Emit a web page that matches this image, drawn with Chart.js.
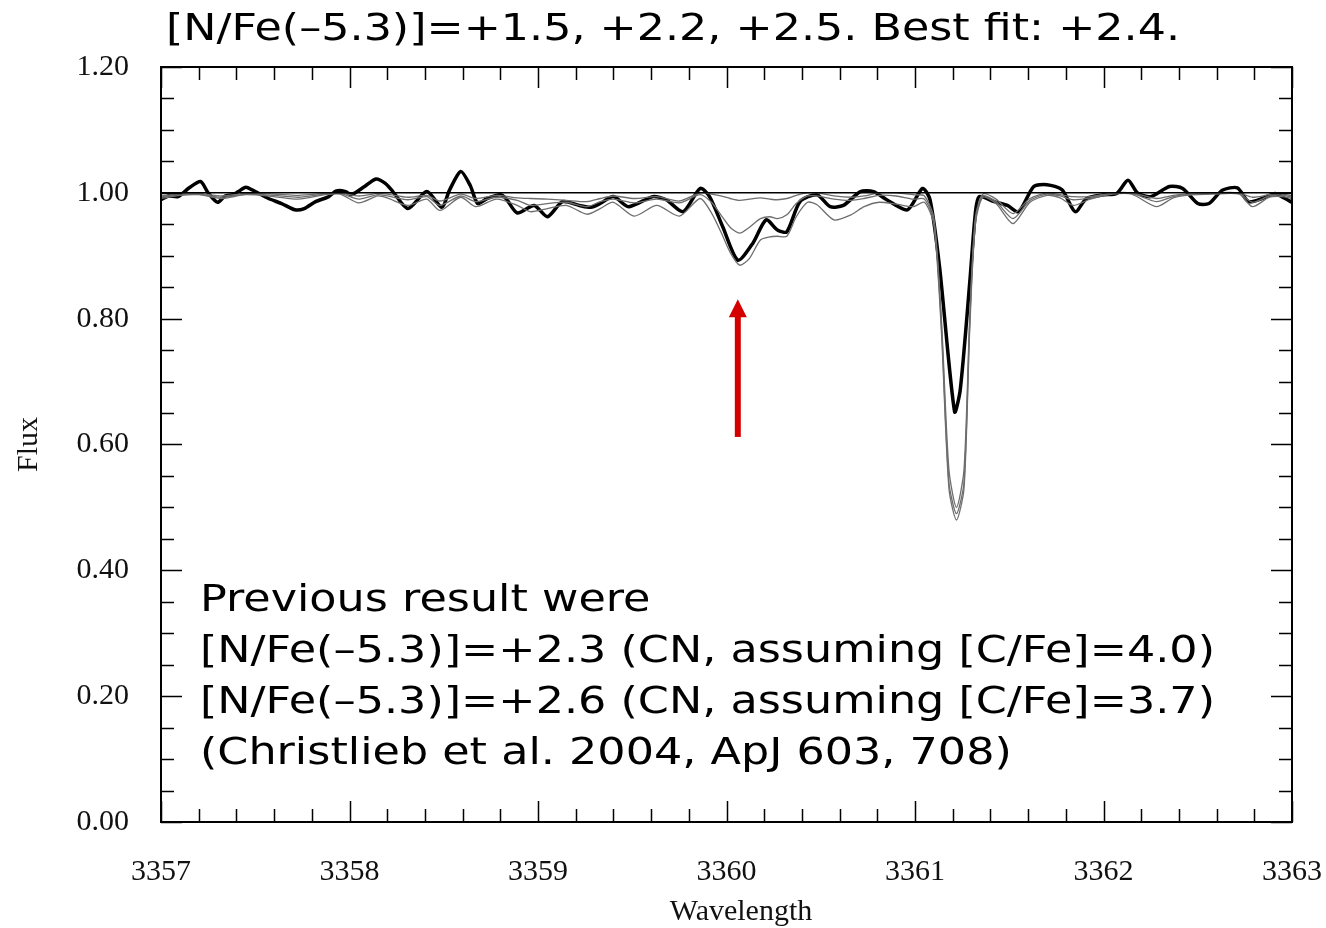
<!DOCTYPE html>
<html>
<head>
<meta charset="utf-8">
<script src="https://cdn.jsdelivr.net/npm/chart.js@4"></script>
<style>
  html, body { margin: 0; padding: 0; background: #fff; }
  #wrap { width: 1326px; height: 928px; }
</style>
</head>
<body>
<div id="wrap"><canvas id="myChart"></canvas></div>
<script>
// observed spectrum (thick line)
const obsWave = [3357.00, 3357.04, 3357.09, 3357.15, 3357.21, 3357.25, 3357.30, 3357.34, 3357.38, 3357.41,
  3357.45, 3357.50, 3357.57, 3357.64, 3357.71, 3357.76, 3357.82, 3357.89, 3357.93, 3357.98,
  3358.01, 3358.08, 3358.14, 3358.19, 3358.23, 3358.31, 3358.41, 3358.49, 3358.53, 3358.59,
  3358.64, 3358.68, 3358.73, 3358.80, 3358.83, 3358.89, 3358.98, 3359.05, 3359.13, 3359.22,
  3359.28, 3359.33, 3359.40, 3359.48, 3359.61, 3359.68, 3359.77, 3359.86, 3359.91, 3359.98,
  3360.06, 3360.14, 3360.21, 3360.27, 3360.32, 3360.39, 3360.48, 3360.55, 3360.62, 3360.71,
  3360.78, 3360.85, 3360.96, 3361.04, 3361.08, 3361.13, 3361.21, 3361.24, 3361.29, 3361.32,
  3361.34, 3361.42, 3361.49, 3361.55, 3361.63, 3361.70, 3361.78, 3361.85, 3361.91, 3362.00,
  3362.07, 3362.13, 3362.18, 3362.25, 3362.35, 3362.42, 3362.50, 3362.56, 3362.63, 3362.71,
  3362.77, 3362.85, 3362.91, 3362.95, 3363.00];
const obsFlux = [0.989, 0.995, 0.994, 1.008, 1.018, 1.000, 0.985, 0.995, 0.997, 1.002,
  1.009, 1.002, 0.991, 0.983, 0.973, 0.975, 0.986, 0.994, 1.003, 1.002,
  0.997, 1.010, 1.022, 1.015, 1.002, 0.975, 1.002, 0.977, 1.004, 1.034,
  1.012, 0.983, 0.991, 0.997, 0.991, 0.968, 0.980, 0.962, 0.986, 0.980,
  0.977, 0.983, 0.994, 0.978, 0.994, 0.989, 0.970, 1.007, 0.994, 0.946,
  0.893, 0.920, 0.957, 0.941, 0.938, 0.986, 0.997, 0.978, 0.980, 1.002,
  1.002, 0.989, 0.973, 1.007, 0.989, 0.883, 0.652, 0.687, 0.856, 0.967,
  0.994, 0.986, 0.980, 0.970, 1.010, 1.013, 1.005, 0.970, 0.991, 0.997,
  0.999, 1.020, 1.000, 0.994, 1.010, 1.007, 0.983, 0.983, 1.004, 1.008,
  0.986, 0.992, 0.999, 0.993, 0.985];

// synthetic spectra, [N/Fe] = +1.5, +2.2, +2.5
const synWave = [3357.00, 3357.10, 3357.20, 3357.32, 3357.45, 3357.60, 3357.73, 3357.87, 3357.95, 3358.05,
  3358.15, 3358.20, 3358.31, 3358.41, 3358.48, 3358.59, 3358.67, 3358.78, 3358.89, 3358.96,
  3359.05, 3359.15, 3359.26, 3359.33, 3359.40, 3359.51, 3359.63, 3359.75, 3359.86, 3359.92,
  3359.97, 3360.02, 3360.07, 3360.12, 3360.18, 3360.23, 3360.27, 3360.32, 3360.37, 3360.43,
  3360.48, 3360.57, 3360.66, 3360.73, 3360.81, 3360.90, 3360.99, 3361.05, 3361.10, 3361.14,
  3361.18, 3361.22, 3361.26, 3361.29, 3361.32, 3361.36, 3361.43, 3361.52, 3361.61, 3361.70,
  3361.77, 3361.84, 3361.93, 3362.05, 3362.15, 3362.28, 3362.37, 3362.44, 3362.58, 3362.72,
  3362.79, 3362.88, 3362.95, 3363.00];
const syn15 = [0.995, 0.998, 0.999, 0.995, 0.999, 0.998, 0.996, 0.999, 1.000, 0.995,
  0.999, 0.998, 0.993, 0.996, 0.987, 0.998, 0.991, 0.996, 0.992, 0.991,
  0.990, 0.988, 0.986, 0.991, 0.995, 0.991, 0.994, 0.987, 1.000, 0.998,
  0.995, 0.991, 0.988, 0.990, 0.992, 0.990, 0.989, 0.991, 0.996, 1.000,
  1.000, 0.995, 0.993, 0.995, 1.000, 1.000, 0.997, 0.995, 0.960, 0.800,
  0.560, 0.500, 0.560, 0.800, 0.960, 0.998, 0.990, 0.967, 0.991, 1.000,
  0.997, 0.994, 0.994, 1.000, 1.000, 0.991, 0.996, 0.998, 1.000, 1.000,
  0.993, 0.997, 0.998, 0.995];
const syn22 = [0.993, 0.997, 0.998, 0.993, 0.998, 0.996, 0.993, 0.998, 0.999, 0.990,
  0.997, 0.995, 0.989, 0.994, 0.980, 0.995, 0.986, 0.993, 0.988, 0.980,
  0.983, 0.985, 0.978, 0.986, 0.990, 0.984, 0.990, 0.984, 0.997, 0.985,
  0.965, 0.945, 0.936, 0.945, 0.959, 0.962, 0.959, 0.965, 0.983, 0.995,
  0.995, 0.990, 0.988, 0.991, 0.996, 0.995, 0.990, 0.990, 0.955, 0.790,
  0.540, 0.490, 0.540, 0.790, 0.955, 0.995, 0.986, 0.959, 0.988, 0.998,
  0.995, 0.989, 0.992, 0.999, 0.999, 0.986, 0.994, 0.997, 0.999, 0.999,
  0.985, 0.995, 0.996, 0.993];
const syn25 = [0.991, 0.996, 0.997, 0.991, 0.997, 0.994, 0.990, 0.997, 0.998, 0.984,
  0.995, 0.992, 0.980, 0.990, 0.972, 0.993, 0.978, 0.990, 0.980, 0.970,
  0.975, 0.980, 0.966, 0.975, 0.985, 0.963, 0.980, 0.963, 0.991, 0.968,
  0.938, 0.905, 0.885, 0.895, 0.925, 0.930, 0.931, 0.931, 0.962, 0.985,
  0.981, 0.957, 0.965, 0.978, 0.985, 0.982, 0.978, 0.985, 0.950, 0.780,
  0.530, 0.480, 0.530, 0.780, 0.950, 0.993, 0.983, 0.951, 0.985, 0.996,
  0.992, 0.980, 0.990, 0.998, 0.998, 0.978, 0.992, 0.996, 0.998, 0.998,
  0.978, 0.993, 0.994, 0.991];

// continuum
const contWave = [3357, 3363];
const contFlux = [1.0, 1.0];

const xTicks = [3357, 3358, 3359, 3360, 3361, 3362, 3363];
const yTicks = [0.0, 0.2, 0.4, 0.6, 0.8, 1.0, 1.2];

const titleText = '[N/Fe(\u20135.3)]=+1.5, +2.2, +2.5. Best fit: +2.4.';
const noteLines = [
  'Previous result were',
  '[N/Fe(\u20135.3)]=+2.3 (CN, assuming [C/Fe]=4.0)',
  '[N/Fe(\u20135.3)]=+2.6 (CN, assuming [C/Fe]=3.7)',
  '(Christlieb et al. 2004, ApJ 603, 708)'
];
const xTitle = 'Wavelength';

// arrow marking the CN feature
const arrowX = 3360.06;
const arrowFrom = 0.612;
const arrowTo = 0.831;

function pts(xs, ys) {
  return xs.map((x, i) => ({ x: x, y: ys[i] }));
}

const serif = '"Liberation Serif", "Times New Roman", serif';
const sans = '"DejaVu Sans", Verdana, sans-serif';

// draws a line of text squeezed to a target width
function fitText(ctx, txt, x, y, size, scaleX) {
  ctx.save();
  ctx.font = size + 'px ' + sans;
  ctx.textBaseline = 'middle';
  ctx.textAlign = 'left';
  ctx.translate(x, y);
  ctx.scale(scaleX, 1);
  ctx.fillText(txt, 0, 0);
  ctx.restore();
}

const framePlugin = {
  id: 'frame',
  afterDatasetsDraw(chart) {
    const ctx = chart.ctx;
    const a = chart.chartArea;
    const xs = chart.scales.x, ys = chart.scales.y;
    ctx.save();
    ctx.strokeStyle = '#000';
    ctx.lineWidth = 2;
    ctx.strokeRect(a.left, a.top, a.right - a.left, a.bottom - a.top);

    ctx.lineWidth = 1.5;
    ctx.beginPath();
    for (let i = 0; i <= 30; i++) {
      const v = 3357 + i * 0.2;
      const px = Math.round(xs.getPixelForValue(v)) + 0.5;
      const len = (i % 5 === 0) ? 21 : 13;
      ctx.moveTo(px, a.bottom); ctx.lineTo(px, a.bottom - len);
      ctx.moveTo(px, a.top); ctx.lineTo(px, a.top + len);
    }
    for (let i = 0; i <= 24; i++) {
      const v = i * 0.05;
      const py = Math.round(ys.getPixelForValue(v)) + 0.5;
      const len = (i % 4 === 0) ? 21 : 13;
      ctx.moveTo(a.left, py); ctx.lineTo(a.left + len, py);
      ctx.moveTo(a.right, py); ctx.lineTo(a.right - len, py);
    }
    ctx.stroke();

    // red arrow
    const ax = xs.getPixelForValue(arrowX);
    const y0 = ys.getPixelForValue(arrowFrom);
    const y1 = ys.getPixelForValue(arrowTo);
    ctx.strokeStyle = '#d40000';
    ctx.fillStyle = '#d40000';
    ctx.lineWidth = 6;
    ctx.beginPath();
    ctx.moveTo(ax, y0); ctx.lineTo(ax, y1 + 16);
    ctx.stroke();
    ctx.beginPath();
    ctx.moveTo(ax, y1);
    ctx.lineTo(ax - 9, y1 + 18);
    ctx.lineTo(ax + 9, y1 + 18);
    ctx.closePath();
    ctx.fill();

    // x axis title, sits a bit right of centre in the original
    ctx.fillStyle = '#111';
    ctx.font = '30px ' + serif;
    ctx.textAlign = 'center';
    ctx.textBaseline = 'middle';
    ctx.fillText(xTitle, 741, 912);

    // texts
    ctx.fillStyle = '#000';
    ctx.font = '38px ' + sans;
    const tw = ctx.measureText(titleText).width;
    fitText(ctx, titleText, 166, 30, 38, 1014 / tw);
    const nw = ctx.measureText(noteLines[1]).width;
    const sx = 1015 / nw;
    const lineY = [601, 652, 703, 754];
    noteLines.forEach((t, i) => fitText(ctx, t, 200, lineY[i], 38, sx));
    ctx.restore();
  }
};

const data = {
  datasets: [
    { label: 'continuum', data: pts(contWave, contFlux), borderColor: '#000', borderWidth: 1.5 },
    { label: '[N/Fe]=+1.5', data: pts(synWave, syn15), borderColor: '#6e6e6e', borderWidth: 1.3 },
    { label: '[N/Fe]=+2.2', data: pts(synWave, syn22), borderColor: '#6e6e6e', borderWidth: 1.3 },
    { label: '[N/Fe]=+2.5', data: pts(synWave, syn25), borderColor: '#6e6e6e', borderWidth: 1.3 },
    { label: 'observed', data: pts(obsWave, obsFlux), borderColor: '#000', borderWidth: 3.5 }
  ]
};

const config = {
  type: 'line',
  data: data,
  options: {
    responsive: true,
    maintainAspectRatio: false,
    animation: false,
    parsing: false,
    layout: { padding: { top: 67, right: 34, left: 0, bottom: 0 } },
    elements: { point: { radius: 0 }, line: { tension: 0.25, fill: false } },
    plugins: { legend: { display: false }, tooltip: { enabled: false } },
    scales: {
      x: {
        type: 'linear',
        min: 3357, max: 3363,
        afterBuildTicks: (s) => { s.ticks = xTicks.map(v => ({ value: v })); },
        afterFit: (s) => { s.height = 106; s.paddingLeft = 0; s.paddingRight = 0; },
        grid: { display: false, drawTicks: false },
        border: { display: false },
        ticks: { padding: 32, color: '#111', font: { family: serif, size: 30 }, callback: v => String(v) },
        title: { display: false }
      },
      y: {
        min: 0, max: 1.2,
        afterBuildTicks: (s) => { s.ticks = yTicks.map(v => ({ value: v })); },
        afterFit: (s) => { s.width = 161; s.paddingTop = 0; s.paddingBottom = 0; },
        grid: { display: false, drawTicks: false },
        border: { display: false },
        ticks: { padding: 32, color: '#111', font: { family: serif, size: 30 }, callback: v => v.toFixed(2) },
        title: { display: true, text: 'Flux', color: '#111', font: { family: serif, size: 30, lineHeight: 1 }, padding: { top: 14, bottom: 0 } }
      }
    }
  },
  plugins: [framePlugin]
};

new Chart(document.getElementById('myChart').getContext('2d'), config);
</script>
</body>
</html>
